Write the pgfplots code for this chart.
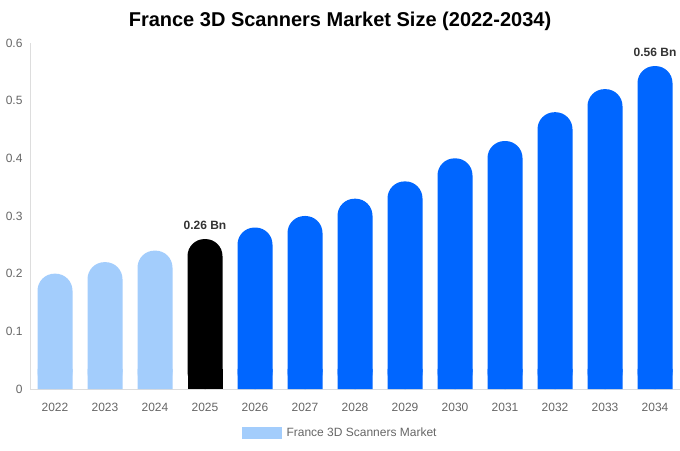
\documentclass[border=0pt]{standalone}
\usepackage{pgfplots}
\pgfplotsset{compat=1.18}
\usepackage{pgfplotstable}
\usepackage{fontspec}
\setmainfont{Liberation Sans}
\definecolor{lightbar}{HTML}{A3CDFC}
\definecolor{bluebar}{HTML}{0066FF}
\definecolor{ticktext}{HTML}{666666}
\definecolor{axisline}{HTML}{DDDDDD}
\definecolor{labeltext}{HTML}{333333}

\pgfplotstableread{
x v
0 0.20
1 0.22
2 0.24
}\histdata
\pgfplotstableread{
x v
3 0.26
}\basedata
\pgfplotstableread{
x v lab
4 0.28 {}
5 0.30 {}
6 0.33 {}
7 0.36 {}
8 0.40 {}
9 0.43 {}
10 0.48 {}
11 0.52 {}
12 0.56 {0.56 Bn}
}\fcdata

\begin{document}
\begin{tikzpicture}[x=1pt,y=1pt]
\useasboundingbox (0,0) rectangle (680,450);
\node[font=\bfseries\fontsize{20}{24}\selectfont, anchor=center] at (340,429) {France 3D Scanners Market Size (2022-2034)};
\begin{axis}[
  at={(30pt,61pt)}, anchor=south west,
  scale only axis, width=650pt, height=346pt,
  xmin=-0.5, xmax=12.5, ymin=0, ymax=0.6,
  axis x line*=bottom, axis y line*=left,
  axis line style={axisline, line width=0.8pt},
  x axis line style={-}, y axis line style={-},
  xtick={0,...,12},
  xticklabels={2022,2023,2024,2025,2026,2027,2028,2029,2030,2031,2032,2033,2034},
  ytick={0,0.1,0.2,0.3,0.4,0.5,0.6},
  yticklabels={0,0.1,0.2,0.3,0.4,0.5,0.6},
  major tick length=0pt,
  tick label style={font=\fontsize{12}{14}\selectfont, text=ticktext},
  xticklabel style={yshift=-11pt},
  yticklabel style={xshift=-4pt},
  ymajorgrids=false, xmajorgrids=false,
  ybar, bar width=35pt, bar shift=0pt,
  clip=false,
  legend style={at={(0.477,-0.127)}, anchor=center, draw=none, fill=none,
    font=\fontsize{12}{14}\selectfont, text=ticktext,
    legend cell align=left},
  legend image code/.code={\fill[#1, sharp corners] (0pt,-6pt) rectangle (40pt,6pt);},
]
% rounded top bars
\addplot[fill=lightbar, draw=none, rounded corners=17pt] table[x=x,y=v] {\histdata};
\addlegendentry{\hspace{3pt}France 3D Scanners Market}
\addplot[fill=black, draw=none, rounded corners=17pt,
  nodes near coords={0.26 Bn},
  every node near coord/.append style={font=\bfseries\fontsize{12}{14}\selectfont, text=labeltext, yshift=6pt}] table[x=x,y=v] {\basedata};
\addplot[fill=bluebar, draw=none, rounded corners=17pt,
  point meta=explicit symbolic,
  nodes near coords,
  every node near coord/.append style={font=\bfseries\fontsize{12}{14}\selectfont, text=labeltext, yshift=6pt}] table[x=x,y=v,meta=lab] {\fcdata};
% flat bottoms: square base under the rounded bars
\addplot[fill=lightbar, draw=none, forget plot] table[x=x,y expr=0.035] {\histdata};
\addplot[fill=black, draw=none, forget plot] table[x=x,y expr=0.035] {\basedata};
\addplot[fill=bluebar, draw=none, forget plot] table[x=x,y expr=0.035] {\fcdata};
\end{axis}
\end{tikzpicture}
\end{document}
